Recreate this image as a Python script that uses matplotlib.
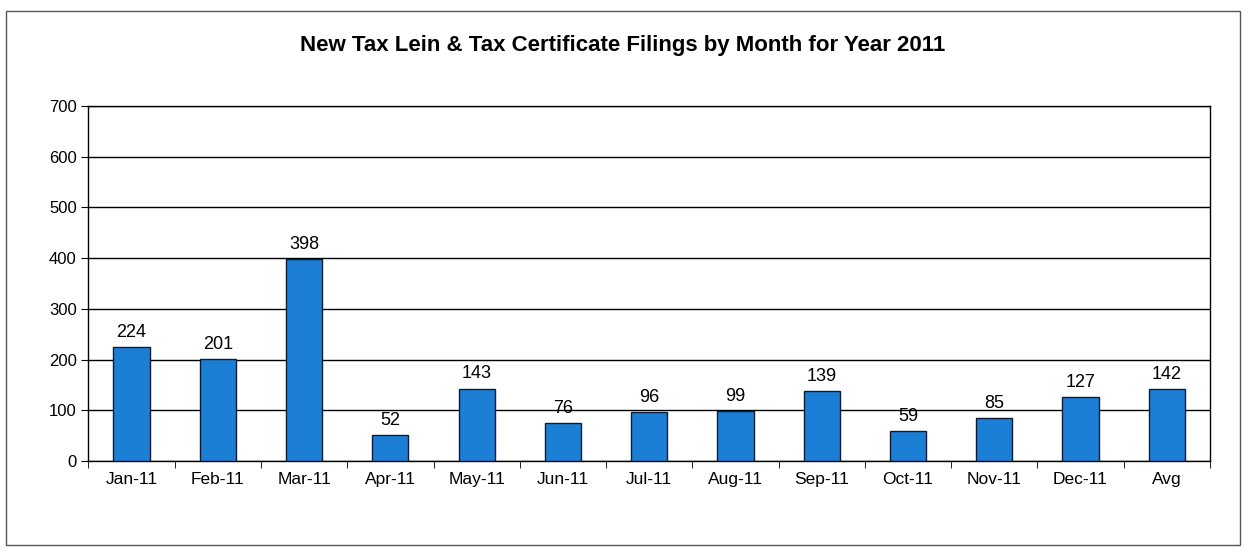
import matplotlib.pyplot as plt
from matplotlib.patches import Rectangle
import numpy as np

plt.rcParams['font.family'] = ['Liberation Sans', 'DejaVu Sans']

months = ["Jan-11", "Feb-11", "Mar-11", "Apr-11", "May-11", "Jun-11", "Jul-11",
          "Aug-11", "Sep-11", "Oct-11", "Nov-11", "Dec-11", "Avg"]
filings = [224, 201, 398, 52, 143, 76, 96, 99, 139, 59, 85, 127, 142]
yticks = [0, 100, 200, 300, 400, 500, 600, 700]

fig = plt.figure(figsize=(12.46, 5.51), dpi=100)
ax = fig.add_axes([0.071, 0.163, 0.9, 0.645])

x = np.arange(len(months))
ax.bar(x, filings, width=0.42, color="#1c7fd6", edgecolor="#0d1a33", linewidth=1.0, zorder=3)
for xi, v in zip(x, filings):
    ax.text(xi, v + 12, str(v), ha="center", va="bottom", fontsize=13, zorder=4)

ax.set_xlim(-0.5, len(months) - 0.5)
ax.set_ylim(0, 700)
ax.set_yticks(yticks)
ax.tick_params(axis="y", labelsize=12, direction="out", length=5)
ax.set_xticks(x)
ax.set_xticklabels(months, fontsize=12.5)
ax.tick_params(axis="x", length=0, pad=8)
ax.set_xticks(np.arange(len(months) + 1) - 0.5, minor=True)
ax.tick_params(axis="x", which="minor", length=5, direction="out")
ax.yaxis.grid(True, color="black", linewidth=1.0, zorder=0)
for s in ["left", "bottom", "right", "top"]:
    ax.spines[s].set_color("black")
    ax.spines[s].set_linewidth(1.0)

fig.text(0.5, 0.918, "New Tax Lein & Tax Certificate Filings by Month for Year 2011",
         ha="center", va="center", fontsize=16, fontweight="bold")

fig.patches.append(Rectangle((0.005, 0.01), 0.99, 0.97, transform=fig.transFigure,
                             fill=False, edgecolor="#555555", linewidth=1.0))

fig.savefig("out.png", dpi=100)
